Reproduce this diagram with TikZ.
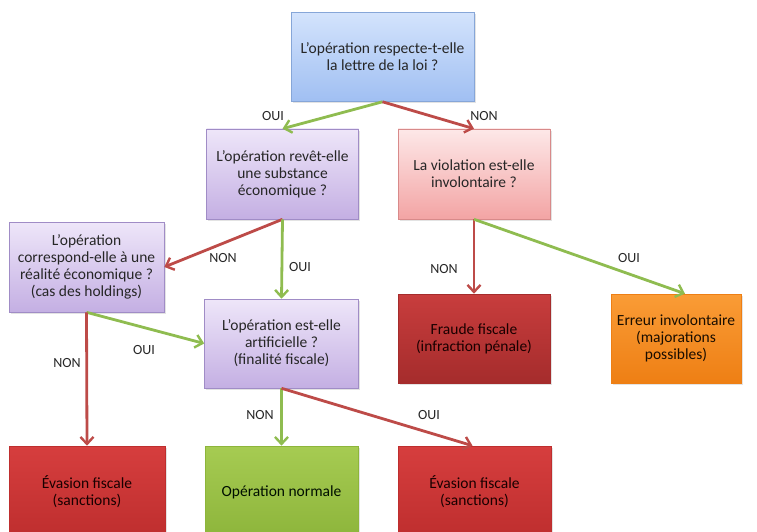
\documentclass[tikz,border=0pt]{standalone}
\usepackage{fontspec}
\setmainfont{Carlito}
\usetikzlibrary{arrows.meta,shadows}
\definecolor{blueTop}{HTML}{D3E3FC}
\definecolor{blueBot}{HTML}{A0BFF2}
\definecolor{blueLine}{HTML}{86A6D8}
\definecolor{purTop}{HTML}{EEE6F9}
\definecolor{purBot}{HTML}{C4AFE3}
\definecolor{purLine}{HTML}{A08CC6}
\definecolor{pinkTop}{HTML}{FDE8E8}
\definecolor{pinkBot}{HTML}{F3A4A4}
\definecolor{pinkLine}{HTML}{D88A8A}
\definecolor{drTop}{HTML}{C83D3D}
\definecolor{drBot}{HTML}{A52C2C}
\definecolor{rTop}{HTML}{D63E3E}
\definecolor{rBot}{HTML}{BE2E2E}
\definecolor{gTop}{HTML}{A6CB52}
\definecolor{gBot}{HTML}{8DB53B}
\definecolor{oTop}{HTML}{FA9C36}
\definecolor{oBot}{HTML}{EE7F14}
\definecolor{arrG}{HTML}{8FBC50}
\definecolor{arrR}{HTML}{BD4B48}
\definecolor{txt}{HTML}{262626}
\begin{document}
\begin{tikzpicture}[x=1pt,y=-1pt,
  box/.style={line width=0.6pt, align=center, inner sep=2pt,
    font=\fontsize{15.5}{17}\selectfont,
    drop shadow={opacity=0.22,shadow xshift=1.5pt,shadow yshift=-2pt}},
  bluebox/.style={box, draw=blueLine, top color=blueTop, bottom color=blueBot, text=txt},
  purbox/.style={box, draw=purLine, top color=purTop, bottom color=purBot, text=txt},
  pinkbox/.style={box, draw=pinkLine, top color=pinkTop, bottom color=pinkBot, text=txt},
  drbox/.style={box, draw=drBot, top color=drTop, bottom color=drBot, text=black!75!red!40!black},
  rbox/.style={box, draw=rBot, top color=rTop, bottom color=rBot, text=black!75!red!40!black},
  gbox/.style={box, draw=gBot, top color=gTop, bottom color=gBot, text=black!80!green!30!black},
  obox/.style={box, draw=oBot, top color=oTop, bottom color=oBot, text=black!75!orange!40!black},
  conn/.style={line width=2.8pt, -{Straight Barb[length=7pt,width=13pt,line width=2.4pt]}},
  yes/.style={conn, draw=arrG},
  no/.style={conn, draw=arrR},
  lab/.style={font=\fontsize{14}{16}\selectfont, text=txt, inner sep=0pt}]
\path[use as bounding box] (0,0) rectangle (757,532);

\node[bluebox, minimum width=183pt, minimum height=89pt] (A) at (382.5,57)
  {L’opération respecte-t-elle\\la lettre de la loi ?};
\node[purbox, minimum width=152pt, minimum height=90pt] (B) at (282.5,174)
  {L’opération revêt-elle\\une substance\\économique ?};
\node[pinkbox, minimum width=152pt, minimum height=90pt] (C) at (474,174)
  {La violation est-elle\\involontaire ?};
\node[purbox, minimum width=155pt, minimum height=90pt] (D) at (86.5,267)
  {L’opération\\correspond-elle à une\\réalité économique ?\\(cas des holdings)};
\node[purbox, minimum width=154pt, minimum height=89pt] (E) at (281.5,343.5)
  {L’opération est-elle\\artificielle ?\\(finalité fiscale)};
\node[drbox, minimum width=152pt, minimum height=89pt] (F) at (474,338.5)
  {Fraude fiscale\\(infraction pénale)};
\node[obox, minimum width=130pt, minimum height=89pt] (G) at (676,338.5)
  {Erreur involontaire\\(majorations\\possibles)};
\node[rbox, minimum width=156pt, minimum height=92pt] (H) at (87,492)
  {Évasion fiscale\\(sanctions)};
\node[gbox, minimum width=153pt, minimum height=92pt] (I) at (281.5,492)
  {Opération normale};
\node[rbox, minimum width=153pt, minimum height=92pt] (J) at (474.5,492)
  {Évasion fiscale\\(sanctions)};

\draw[yes] (A.south) -- (B.north);
\draw[no]  (A.south) -- (C.north);
\draw[no]  (B.south) -- (D.east);
\draw[yes] (B.south) -- (E.north);
\draw[yes] (D.south) -- (E.west);
\draw[no]  (D.south) -- (H.north);
\draw[no]  (C.south) -- (F.north);
\draw[yes] (C.south) -- ([xshift=9pt]G.north);
\draw[yes] (E.south) -- (I.north);
\draw[no]  (E.south) -- ([xshift=-2pt]J.north);

\node[lab] (l1) at (273,116) {OUI};
\node[lab] (l2) at (484,116) {NON};
\node[lab] (l3) at (223,258) {NON};
\node[lab] (l4) at (300,267) {OUI};
\node[lab] (l5) at (144,350) {OUI};
\node[lab] (l6) at (67,363) {NON};
\node[lab] (l7) at (444,269) {NON};
\node[lab] (l8) at (629,258) {OUI};
\node[lab] (l9) at (260,415) {NON};
\node[lab] (l10) at (429,415) {OUI};
\end{tikzpicture}
\end{document}
